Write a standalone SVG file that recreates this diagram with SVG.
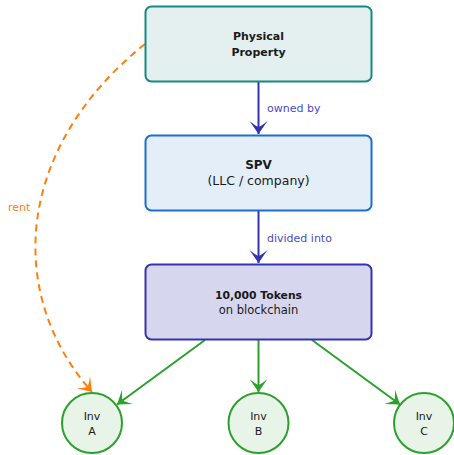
<svg xmlns="http://www.w3.org/2000/svg" width="454" height="455" viewBox="0 0 454 455">
<style>
text{font-family:"DejaVu Sans","Liberation Sans",sans-serif;text-anchor:middle;fill:#1a1a1a}
.b{font-weight:bold}
.lbl{font-size:11px;text-anchor:start;fill:#4a4ac8}
.box{stroke-width:2}
.inv{fill:#e8f4e8;stroke:#2ca02c;stroke-width:2}
.blue{stroke:#3333b2;stroke-width:2;fill:none}
.green{stroke:#2ca02c;stroke-width:2;fill:none}
</style>
<defs>
<marker id="ab" markerUnits="userSpaceOnUse" markerWidth="22" markerHeight="22" viewBox="-16 -11 18 22" refX="0" refY="0" orient="auto">
<path d="M0,0 L-13,-9 Q-8,-3 -7,0 Q-8,3 -13,9 Z" fill="#3333b2"/>
</marker>
<marker id="ag" markerUnits="userSpaceOnUse" markerWidth="22" markerHeight="22" viewBox="-16 -11 18 22" refX="0" refY="0" orient="auto">
<path d="M0,0 L-13,-9 Q-8,-3 -7,0 Q-8,3 -13,9 Z" fill="#2ca02c"/>
</marker>
<marker id="ao" markerUnits="userSpaceOnUse" markerWidth="22" markerHeight="22" viewBox="-16 -11 18 22" refX="0" refY="0" orient="auto">
<path d="M0,0 L-13,-9 Q-8,-3 -7,0 Q-8,3 -13,9 Z" fill="#ff7f0e"/>
</marker>
</defs>
<g id="connectors">
<line class="blue" x1="258.5" y1="82" x2="258.5" y2="134" marker-end="url(#ab)"/>
<line class="blue" x1="258.5" y1="211" x2="258.5" y2="263" marker-end="url(#ab)"/>
<line class="green" x1="205" y1="340" x2="117" y2="404.5" marker-end="url(#ag)"/>
<line class="green" x1="258.5" y1="340" x2="258.5" y2="392" marker-end="url(#ag)"/>
<line class="green" x1="312" y1="340" x2="400" y2="404.5" marker-end="url(#ag)"/>
<path d="M145,44 C15,148 5,294 92,392" fill="none" stroke="#ff7f0e" stroke-width="2" stroke-dasharray="7 5" marker-end="url(#ao)"/>
<text class="lbl" x="267" y="112">owned by</text>
<text class="lbl" x="267" y="242">divided into</text>
<text class="lbl" x="8" y="211" style="fill:#ff7f0e">rent</text>
</g>
<g id="physical">
<rect class="box" x="145.5" y="6.5" width="226" height="75" rx="6" fill="#e3f0ef" stroke="#148a82"/>
<text class="b" x="258.5" y="40" font-size="11">Physical</text>
<text class="b" x="258.5" y="56" font-size="11">Property</text>
</g>
<g id="spv">
<rect class="box" x="145.5" y="135.5" width="226" height="75" rx="6" fill="#e3eef9" stroke="#1c6fd1"/>
<text class="b" x="258.5" y="169" font-size="12">SPV</text>
<text x="258.5" y="185" font-size="12.5">(LLC / company)</text>
</g>
<g id="tokens">
<rect class="box" x="145.5" y="264.5" width="226" height="75" rx="6" fill="#d6d6ee" stroke="#3434b0"/>
<text class="b" x="258.5" y="299" font-size="10.8">10,000 Tokens</text>
<text x="258.5" y="314" font-size="11.5">on blockchain</text>
</g>
<g id="invA">
<circle class="inv" cx="92" cy="423" r="30"/>
<text x="92" y="420" font-size="11">Inv</text>
<text x="92" y="435" font-size="11">A</text>
</g>
<g id="invB">
<circle class="inv" cx="258.5" cy="423" r="30"/>
<text x="258.5" y="420" font-size="11">Inv</text>
<text x="258.5" y="435" font-size="11">B</text>
</g>
<g id="invC">
<circle class="inv" cx="424" cy="423" r="30"/>
<text x="424" y="420" font-size="11">Inv</text>
<text x="424" y="435" font-size="11">C</text>
</g>
</svg>
